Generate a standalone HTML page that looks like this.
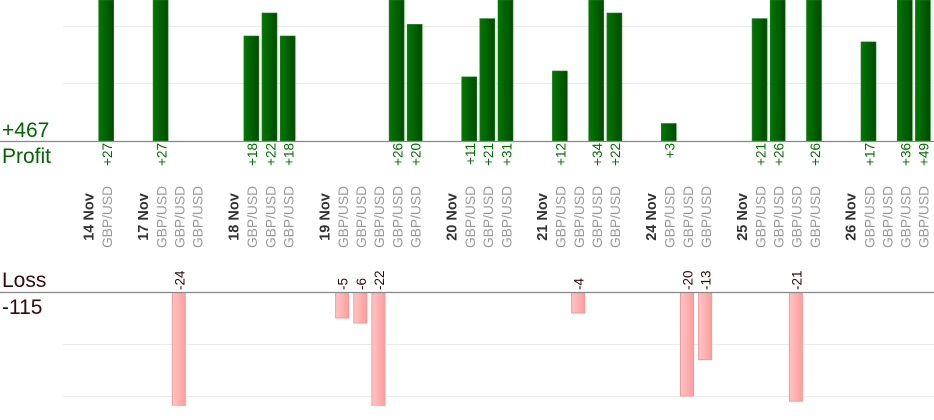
<!DOCTYPE html>
<html><head><meta charset="utf-8"><style>
html,body{margin:0;padding:0;background:#fff;}
svg{display:block;font-family:"Liberation Sans",Arial,sans-serif;}
</style></head><body>
<svg width="934" height="420" viewBox="0 0 934 420" xmlns="http://www.w3.org/2000/svg">
<defs>
<linearGradient id="g" x1="0" x2="1" y1="0" y2="0"><stop offset="0" stop-color="#007a00"/><stop offset="1" stop-color="#004a00"/></linearGradient>
<linearGradient id="r" x1="0" x2="1" y1="0" y2="0"><stop offset="0" stop-color="#ffc4c4"/><stop offset="1" stop-color="#ff9c9c"/></linearGradient>
<clipPath id="cp"><rect x="0" y="0" width="934" height="141"/></clipPath>
<clipPath id="cl"><rect x="0" y="292" width="934" height="114"/></clipPath>
</defs>
<g stroke="#ebebeb" stroke-width="1">
<line x1="63" x2="934" y1="26.5" y2="26.5"/><line x1="63" x2="934" y1="83.5" y2="83.5"/>
<line x1="63" x2="934" y1="344.5" y2="344.5"/><line x1="63" x2="934" y1="396.5" y2="396.5"/>
</g>
<g clip-path="url(#cp)" fill="url(#g)" stroke="#1f7f1f" stroke-width="0.6">
<rect x="98.7" y="0" width="15" height="141"/>
<rect x="153.1" y="0" width="15" height="141"/>
<rect x="243.9" y="36" width="15" height="105"/>
<rect x="262" y="13" width="15" height="128"/>
<rect x="280.2" y="36" width="15" height="105"/>
<rect x="389.1" y="0" width="15" height="141"/>
<rect x="407.2" y="24.4" width="15" height="116.6"/>
<rect x="461.7" y="76.9" width="15" height="64.1"/>
<rect x="479.8" y="18.6" width="15" height="122.4"/>
<rect x="498" y="0" width="15" height="141"/>
<rect x="552.4" y="71" width="15" height="70"/>
<rect x="588.7" y="0" width="15" height="141"/>
<rect x="606.9" y="13" width="15" height="128"/>
<rect x="661.3" y="123.5" width="15" height="17.5"/>
<rect x="752.1" y="18.6" width="15" height="122.4"/>
<rect x="770.2" y="0" width="15" height="141"/>
<rect x="806.5" y="0" width="15" height="141"/>
<rect x="861" y="41.9" width="15" height="99.1"/>
<rect x="897.3" y="0" width="15" height="141"/>
<rect x="915.4" y="0" width="15" height="141"/>
</g>
<g clip-path="url(#cl)" fill="url(#r)" stroke="#f59a9a" stroke-width="1">
<rect x="172.3" y="292" width="13" height="120"/>
<rect x="335.6" y="292" width="13" height="26"/>
<rect x="353.8" y="292" width="13" height="31"/>
<rect x="371.9" y="292" width="13" height="120"/>
<rect x="571.6" y="292" width="13" height="21"/>
<rect x="680.5" y="292" width="13" height="104"/>
<rect x="698.6" y="292" width="13" height="67.6"/>
<rect x="789.4" y="292" width="13" height="109.2"/>
</g>
<line x1="0" x2="934" y1="141.5" y2="141.5" stroke="#888" stroke-width="1.3"/>
<line x1="0" x2="934" y1="292.5" y2="292.5" stroke="#888" stroke-width="1.3"/>
<text x="2" y="137" font-size="21" fill="#006600">+467</text>
<text x="2" y="163" font-size="21" fill="#006600">Profit</text>
<text x="2" y="287" font-size="21" fill="#330a0a">Loss</text>
<text x="2" y="314" font-size="21" fill="#330a0a">-115</text>
<g font-size="13.5" fill="#007000" text-anchor="end">
<text transform="translate(112,143) rotate(-90)">+27</text>
<text transform="translate(166.4,143) rotate(-90)">+27</text>
<text transform="translate(257.2,143) rotate(-90)">+18</text>
<text transform="translate(275.3,143) rotate(-90)">+22</text>
<text transform="translate(293.5,143) rotate(-90)">+18</text>
<text transform="translate(402.4,143) rotate(-90)">+26</text>
<text transform="translate(420.5,143) rotate(-90)">+20</text>
<text transform="translate(475,143) rotate(-90)">+11</text>
<text transform="translate(493.1,143) rotate(-90)">+21</text>
<text transform="translate(511.3,143) rotate(-90)">+31</text>
<text transform="translate(565.7,143) rotate(-90)">+12</text>
<text transform="translate(602,143) rotate(-90)">+34</text>
<text transform="translate(620.2,143) rotate(-90)">+22</text>
<text transform="translate(674.6,143) rotate(-90)">+3</text>
<text transform="translate(765.4,143) rotate(-90)">+21</text>
<text transform="translate(783.5,143) rotate(-90)">+26</text>
<text transform="translate(819.8,143) rotate(-90)">+26</text>
<text transform="translate(874.3,143) rotate(-90)">+17</text>
<text transform="translate(910.6,143) rotate(-90)">+36</text>
<text transform="translate(928.7,143) rotate(-90)">+49</text>
</g>
<g font-size="13.5" fill="#330a0a" text-anchor="start">
<text transform="translate(184.3,290) rotate(-90)">-24</text>
<text transform="translate(347.6,290) rotate(-90)">-5</text>
<text transform="translate(365.8,290) rotate(-90)">-6</text>
<text transform="translate(383.9,290) rotate(-90)">-22</text>
<text transform="translate(583.6,290) rotate(-90)">-4</text>
<text transform="translate(692.5,290) rotate(-90)">-20</text>
<text transform="translate(710.6,290) rotate(-90)">-13</text>
<text transform="translate(801.4,290) rotate(-90)">-21</text>
</g>
<g font-size="14.5" font-weight="bold" fill="#333" text-anchor="middle">
<text transform="translate(93.5,217) rotate(-90)">14 Nov</text>
<text transform="translate(147.9,217) rotate(-90)">17 Nov</text>
<text transform="translate(238.6,217) rotate(-90)">18 Nov</text>
<text transform="translate(329.4,217) rotate(-90)">19 Nov</text>
<text transform="translate(456.4,217) rotate(-90)">20 Nov</text>
<text transform="translate(547.2,217) rotate(-90)">21 Nov</text>
<text transform="translate(656.1,217) rotate(-90)">24 Nov</text>
<text transform="translate(746.8,217) rotate(-90)">25 Nov</text>
<text transform="translate(855.7,217) rotate(-90)">26 Nov</text>
</g>
<g font-size="13.8" fill="#9a9a9a" text-anchor="middle">
<text transform="translate(112,217) rotate(-90)">GBP/USD</text>
<text transform="translate(166.4,217) rotate(-90)">GBP/USD</text>
<text transform="translate(184.6,217) rotate(-90)">GBP/USD</text>
<text transform="translate(202.7,217) rotate(-90)">GBP/USD</text>
<text transform="translate(257.2,217) rotate(-90)">GBP/USD</text>
<text transform="translate(275.3,217) rotate(-90)">GBP/USD</text>
<text transform="translate(293.5,217) rotate(-90)">GBP/USD</text>
<text transform="translate(347.9,217) rotate(-90)">GBP/USD</text>
<text transform="translate(366.1,217) rotate(-90)">GBP/USD</text>
<text transform="translate(384.2,217) rotate(-90)">GBP/USD</text>
<text transform="translate(402.4,217) rotate(-90)">GBP/USD</text>
<text transform="translate(420.5,217) rotate(-90)">GBP/USD</text>
<text transform="translate(475,217) rotate(-90)">GBP/USD</text>
<text transform="translate(493.1,217) rotate(-90)">GBP/USD</text>
<text transform="translate(511.3,217) rotate(-90)">GBP/USD</text>
<text transform="translate(565.7,217) rotate(-90)">GBP/USD</text>
<text transform="translate(583.9,217) rotate(-90)">GBP/USD</text>
<text transform="translate(602,217) rotate(-90)">GBP/USD</text>
<text transform="translate(620.2,217) rotate(-90)">GBP/USD</text>
<text transform="translate(674.6,217) rotate(-90)">GBP/USD</text>
<text transform="translate(692.8,217) rotate(-90)">GBP/USD</text>
<text transform="translate(710.9,217) rotate(-90)">GBP/USD</text>
<text transform="translate(765.4,217) rotate(-90)">GBP/USD</text>
<text transform="translate(783.5,217) rotate(-90)">GBP/USD</text>
<text transform="translate(801.7,217) rotate(-90)">GBP/USD</text>
<text transform="translate(819.8,217) rotate(-90)">GBP/USD</text>
<text transform="translate(874.3,217) rotate(-90)">GBP/USD</text>
<text transform="translate(892.4,217) rotate(-90)">GBP/USD</text>
<text transform="translate(910.6,217) rotate(-90)">GBP/USD</text>
<text transform="translate(928.7,217) rotate(-90)">GBP/USD</text>
</g>
</svg>
</body></html>
